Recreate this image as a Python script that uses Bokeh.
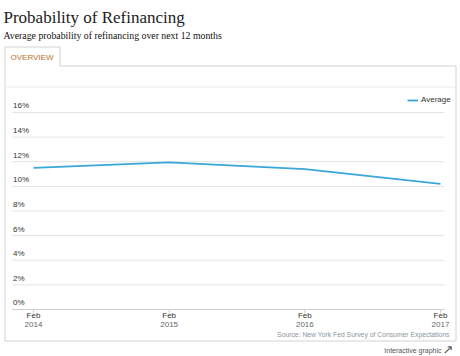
from bokeh.plotting import figure
from bokeh.models import Range1d, Legend, LegendItem
from bokeh.core.properties import value
from bokeh.embed import file_html
from bokeh.resources import INLINE

# ---- data ----
periods = ["Feb 2014", "Feb 2015", "Feb 2016", "Feb 2017"]
average = [11.5, 11.95, 11.4, 10.2]
y_ticks = [0, 2, 4, 6, 8, 10, 12, 14, 16]
y_labels = [f"{t}%" for t in y_ticks]
title_text = "Probability of Refinancing"
subtitle_text = "Average probability of refinancing over next 12 months"
tab_text = "OVERVIEW"
source_text = "Source: New York Fed Survey of Consumer Expectations"
link_text = "Interactive graphic"
series_name = "Average"

W, H = 460, 356
x_idx = list(range(len(periods)))
months = [s.split(" ")[0] for s in periods]
years = [s.split(" ")[1] for s in periods]

# ranges chosen so the frame fills the whole canvas
xr = Range1d(-0.24324, 3.14742)
yr = Range1d(-3.8173, 25.0964)

p = figure(width=W, height=H, output_backend="svg", toolbar_location=None,
           x_range=xr, y_range=yr, x_axis_location=None, y_axis_location=None,
           min_border=0, background_fill_color="white", border_fill_color="white",
           outline_line_color=None)
p.xgrid.visible = False
p.ygrid.visible = False

def X(px):
    return xr.start + px * (xr.end - xr.start) / W

def Y(py):
    return yr.end - py * (yr.end - yr.start) / H

SANS = value("Liberation Sans")
SERIF = value("Liberation Serif")

def txt(px, py, text, font, size, color, align="left", baseline="middle"):
    p.text(x=[X(px)], y=[Y(py)], text=[text], text_font=font, text_font_size=size,
           text_color=color, text_align=align, text_baseline=baseline)

# panel outline with tab
p.line(x=[X(v) for v in [4.5, 4.5, 59.5, 59.5, 455.5, 455.5, 4.5]],
       y=[Y(v) for v in [340.5, 46.5, 46.5, 65.5, 65.5, 340.5, 340.5]],
       line_color="#d2d2d2", line_width=1)
p.line(x=[X(4.5), X(455.5)], y=[Y(86.5), Y(86.5)], line_color="#ebebeb", line_width=1)

# grid lines (plot area)
p.segment(x0=[X(12)] * len(y_ticks), x1=[X(444)] * len(y_ticks), y0=y_ticks, y1=y_ticks,
          line_color="#e3e3e3", line_width=1)
# x axis line and ticks
p.segment(x0=[X(12)], x1=[X(444)], y0=[0], y1=[0], line_color="#cfcfcf", line_width=1)
tick_len = 4 * (yr.end - yr.start) / H
p.segment(x0=x_idx, x1=x_idx, y0=[0] * len(x_idx), y1=[-tick_len] * len(x_idx),
          line_color="#cfcfcf", line_width=1)

# y labels inside the plot area
p.text(x=[X(12.5)] * len(y_ticks), y=y_ticks, text=y_labels, text_font=SANS,
       text_font_size="8px", text_color="#333333", text_baseline="bottom", y_offset=-2)

# x labels
p.text(x=x_idx, y=[0] * len(x_idx), text=months, text_font=SANS, text_font_size="8px",
       text_color="#333333", text_align="center", text_baseline="middle", y_offset=6)
p.text(x=x_idx, y=[0] * len(x_idx), text=years, text_font=SANS, text_font_size="8px",
       text_color="#666666", text_align="center", text_baseline="middle", y_offset=15.5)

# series
r = p.line(x_idx, average, line_color="#3aa6da", line_width=1.8)

legend = Legend(items=[LegendItem(label=series_name, renderers=[r])],
                location=(407, 252), orientation="horizontal",
                background_fill_alpha=0, border_line_alpha=0,
                padding=0, margin=0, glyph_width=11, glyph_height=8,
                label_standoff=3, label_height=8,
                label_text_font="Liberation Sans", label_text_font_size="8px",
                label_text_color="#333333")
p.add_layout(legend)

# texts
txt(3, 16.5, title_text, SERIF, "17px", "#222222", baseline="alphabetic")
txt(3, 35, subtitle_text, SERIF, "9.8px", "#111111", baseline="alphabetic")
txt(10, 56.5, tab_text, SANS, "8px", "#b8732f")
txt(449, 334, source_text, SANS, "6.8px", "#8a96a0", align="right")
txt(441, 349.5, link_text, SANS, "7px", "#555555", align="right")
txt(442, 349, "\u2197", value("DejaVu Sans"), "13px", "#555555")

open("out.html", "w").write(file_html(p, INLINE))
